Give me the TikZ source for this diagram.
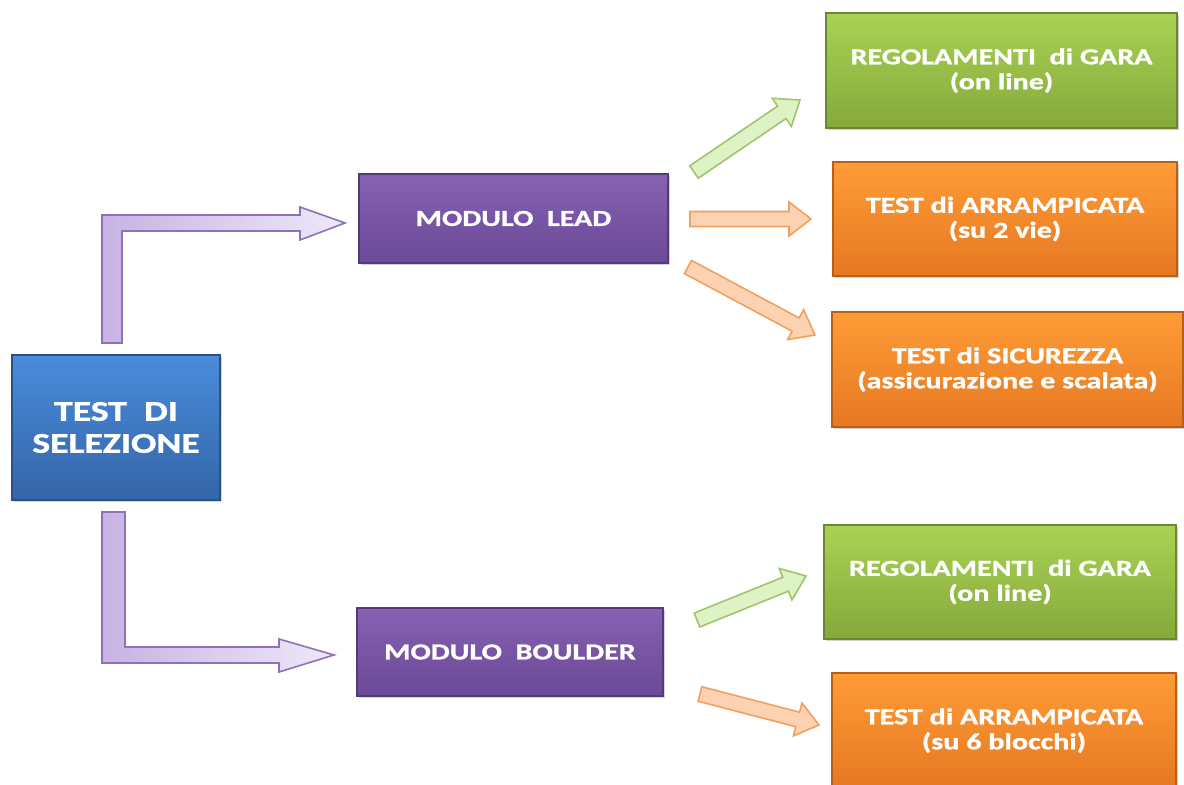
\documentclass[tikz,border=0pt]{standalone}
\usepackage{fontspec}
\setmainfont{Carlito}[FakeStretch=1.32, BoldFeatures={FakeBold=1.2}]
\usetikzlibrary{calc, shadows}

\definecolor{selTop}{HTML}{4A8CDB}
\definecolor{selBot}{HTML}{3465A8}
\definecolor{modTop}{HTML}{8762B3}
\definecolor{modBot}{HTML}{6A4996}
\definecolor{regTop}{HTML}{A8D254}
\definecolor{regBot}{HTML}{86A93B}
\definecolor{tstTop}{HTML}{FF9C36}
\definecolor{tstBot}{HTML}{E67822}
\definecolor{lavDark}{HTML}{C8B2E4}
\definecolor{lavLight}{HTML}{EEE9F8}
\definecolor{lavLine}{HTML}{8E72B5}
\definecolor{grnFill}{HTML}{DDF3C5}
\definecolor{grnLine}{HTML}{9FC46B}
\definecolor{orgFill}{HTML}{FCD2B2}
\definecolor{orgLine}{HTML}{F2A060}

\tikzset{
    box/.style={rectangle, align=center, text=white, inner sep=0pt, line width=0.6pt,
        font=\bfseries\fontsize{11.4}{12.5}\selectfont,
        drop shadow={opacity=0.35, shadow xshift=1pt, shadow yshift=-1pt}},
    selbox/.style={box, top color=selTop, bottom color=selBot, draw=selBot!80!black,
        font=\bfseries\fontsize{14.3}{16}\selectfont},
    modbox/.style={box, top color=modTop, bottom color=modBot, draw=modBot!80!black},
    regbox/.style={box, top color=regTop, bottom color=regBot, draw=regBot!80!black},
    testbox/.style={box, top color=tstTop, bottom color=tstBot, draw=tstBot!80!black},
    bentarrow/.style={left color=lavDark, right color=lavLight, draw=lavLine, line width=0.8pt},
    greenarrow/.style={fill=grnFill, draw=grnLine, line width=0.8pt},
    orangearrow/.style={fill=orgFill, draw=orgLine, line width=0.8pt}
}

% block arrow: style, tail, tip
\newcommand{\barrow}[3]{%
    \coordinate (hb) at ($(#3)!11pt!(#2)$);
    \draw[#1] ($(#2)!3.75pt!90:(#3)$) -- ($(hb)!3.75pt!90:(#3)$) -- ($(hb)!8.5pt!90:(#3)$) -- (#3)
        -- ($(hb)!8.5pt!-90:(#3)$) -- ($(hb)!3.75pt!-90:(#3)$) -- ($(#2)!3.75pt!-90:(#3)$) -- cycle;
}

\begin{document}
\begin{tikzpicture}[x=0.5pt, y=-0.5pt]
    \useasboundingbox (0,0) rectangle (1184,785);
    % start
    \node[selbox, minimum width=104pt, minimum height=72.5pt](sel) at (116,427.5) {TEST\ \ DI\\SELEZIONE};
    % modules
    \node[modbox, minimum width=154.5pt, minimum height=44.5pt](lead) at (513.5,218.5) {MODULO\ \ LEAD};
    \node[modbox, minimum width=153pt, minimum height=44pt](boulder) at (510,652) {MODULO\ \ BOULDER};
    % lead tests
    \node[regbox, minimum width=175.5pt, minimum height=57.5pt](reg1) at (1001.5,70.5) {REGOLAMENTI\ \ di GARA\\(on line)};
    \node[testbox, minimum width=172pt, minimum height=57pt](arr1) at (1005,219) {TEST di ARRAMPICATA\\(su 2 vie)};
    \node[testbox, minimum width=175.5pt, minimum height=57.5pt](sic) at (1007.5,369.5) {TEST di SICUREZZA\\(assicurazione e scalata)};
    % boulder tests
    \node[regbox, minimum width=176pt, minimum height=57pt](reg2) at (1000,582) {REGOLAMENTI\ \ di GARA\\(on line)};
    \node[testbox, minimum width=172pt, minimum height=57.5pt](arr2) at (1004,730.5) {TEST di ARRAMPICATA\\(su 6 blocchi)};
    % arrow ends
    \coordinate (leadin) at (345,223);
    \coordinate (boulderin) at (334,655);
    \coordinate (g1a) at (694,172);  \coordinate (g1b) at (800,100);
    \coordinate (o1a) at (690,219);  \coordinate (o1b) at (811,219);
    \coordinate (o2a) at (688,267);  \coordinate (o2b) at (815,335);
    \coordinate (g2a) at (697,620);  \coordinate (g2b) at (806,576);
    \coordinate (o3a) at (700,694);  \coordinate (o3b) at (819,725);
    % bent arrows
    \draw[bentarrow] (102,343) -- (102,215) -- (300,215) -- (300,207) -- (leadin)
        -- (300,240) -- (300,231) -- (122,231) -- (122,343) -- cycle;
    \draw[bentarrow] (102,512) -- (125,512) -- (125,647) -- (279,647) -- (279,639) -- (boulderin)
        -- (279,672) -- (279,663) -- (102,663) -- cycle;
    % straight arrows
    \barrow{greenarrow}{g1a}{g1b}
    \barrow{orangearrow}{o1a}{o1b}
    \barrow{orangearrow}{o2a}{o2b}
    \barrow{greenarrow}{g2a}{g2b}
    \barrow{orangearrow}{o3a}{o3b}
\end{tikzpicture}
\end{document}
